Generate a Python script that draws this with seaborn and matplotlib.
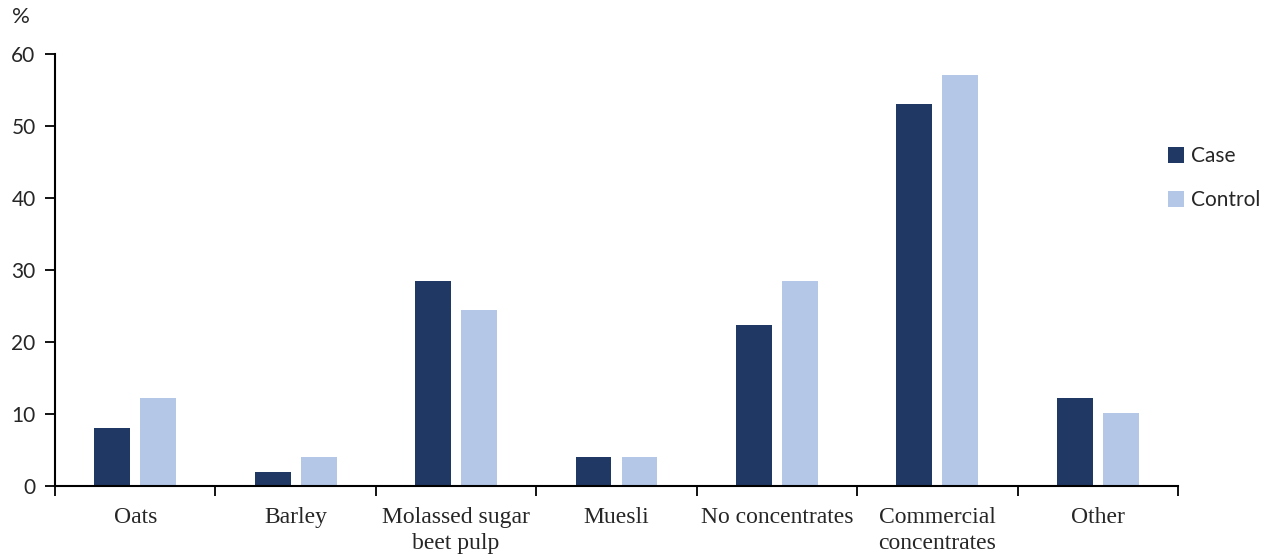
import matplotlib
matplotlib.use("Agg")
import matplotlib.pyplot as plt
from matplotlib.ticker import FixedLocator
import seaborn as sns
import pandas as pd

categories = ["Oats", "Barley", "Molassed sugar\nbeet pulp", "Muesli",
              "No concentrates", "Commercial\nconcentrates", "Other"]
case_values = [8.1, 2.0, 28.5, 4.0, 22.4, 53.1, 12.2]
control_values = [12.2, 4.0, 24.4, 4.0, 28.5, 57.1, 10.2]
groups = ["Case", "Control"]
y_ticks = [0, 10, 20, 30, 40, 50, 60]

df = pd.DataFrame({
    "category": categories * 2,
    "group": [groups[0]] * len(categories) + [groups[1]] * len(categories),
    "value": case_values + control_values,
})

sns.set_style("white")
plt.rcParams["font.family"] = ["Lato", "DejaVu Sans"]

fig = plt.figure(figsize=(12.74, 5.59), dpi=100)
ax = fig.add_axes([55 / 1274, 1 - 486 / 559, (1178 - 55) / 1274, (486 - 54) / 559])

palette = {"Case": "#203864", "Control": "#B4C7E7"}
sns.barplot(data=df, x="category", y="value", hue="group", order=categories,
            hue_order=groups, palette=palette, width=0.573, gap=0.22,
            saturation=1, edgecolor="none", ax=ax, legend=True)

ax.set_xlim(-0.5, len(categories) - 0.5)
ax.set_ylim(0, 60)
ax.set_yticks(y_ticks)
ax.set_yticklabels([str(t) for t in y_ticks], fontsize=15)
ax.tick_params(axis="y", direction="out", length=7, width=1.3, color="black",
               pad=7, left=True)
ax.tick_params(axis="x", which="major", length=0, pad=15)
ax.xaxis.set_minor_locator(FixedLocator([i - 0.5 for i in range(len(categories) + 1)]))
ax.tick_params(axis="x", which="minor", direction="out", length=7, width=1.3,
               color="black", bottom=True)
for lbl in ax.get_xticklabels():
    lbl.set_fontfamily("Liberation Serif")
    lbl.set_fontsize(17)
    lbl.set_linespacing(1.3)
    lbl.set_verticalalignment("top")
ax.set_xlabel("")
ax.set_ylabel("")

for side in ["top", "right"]:
    ax.spines[side].set_visible(False)
for side in ["left", "bottom"]:
    ax.spines[side].set_color("black")
    ax.spines[side].set_linewidth(1.5)
ax.grid(False)

fig.text(12 / 1274, 1 - 17 / 559, "%", fontsize=16, ha="left", va="center")

handles, labels = ax.get_legend_handles_labels()
ax.get_legend().remove()
fig.legend(handles, labels, loc="upper left",
           bbox_to_anchor=(1160 / 1274, 1 - 138 / 559), frameon=False,
           fontsize=15, handlelength=0.75, handleheight=0.75,
           handletextpad=0.35, labelspacing=1.15, borderaxespad=0)

fig.savefig("out.png", dpi=100)
